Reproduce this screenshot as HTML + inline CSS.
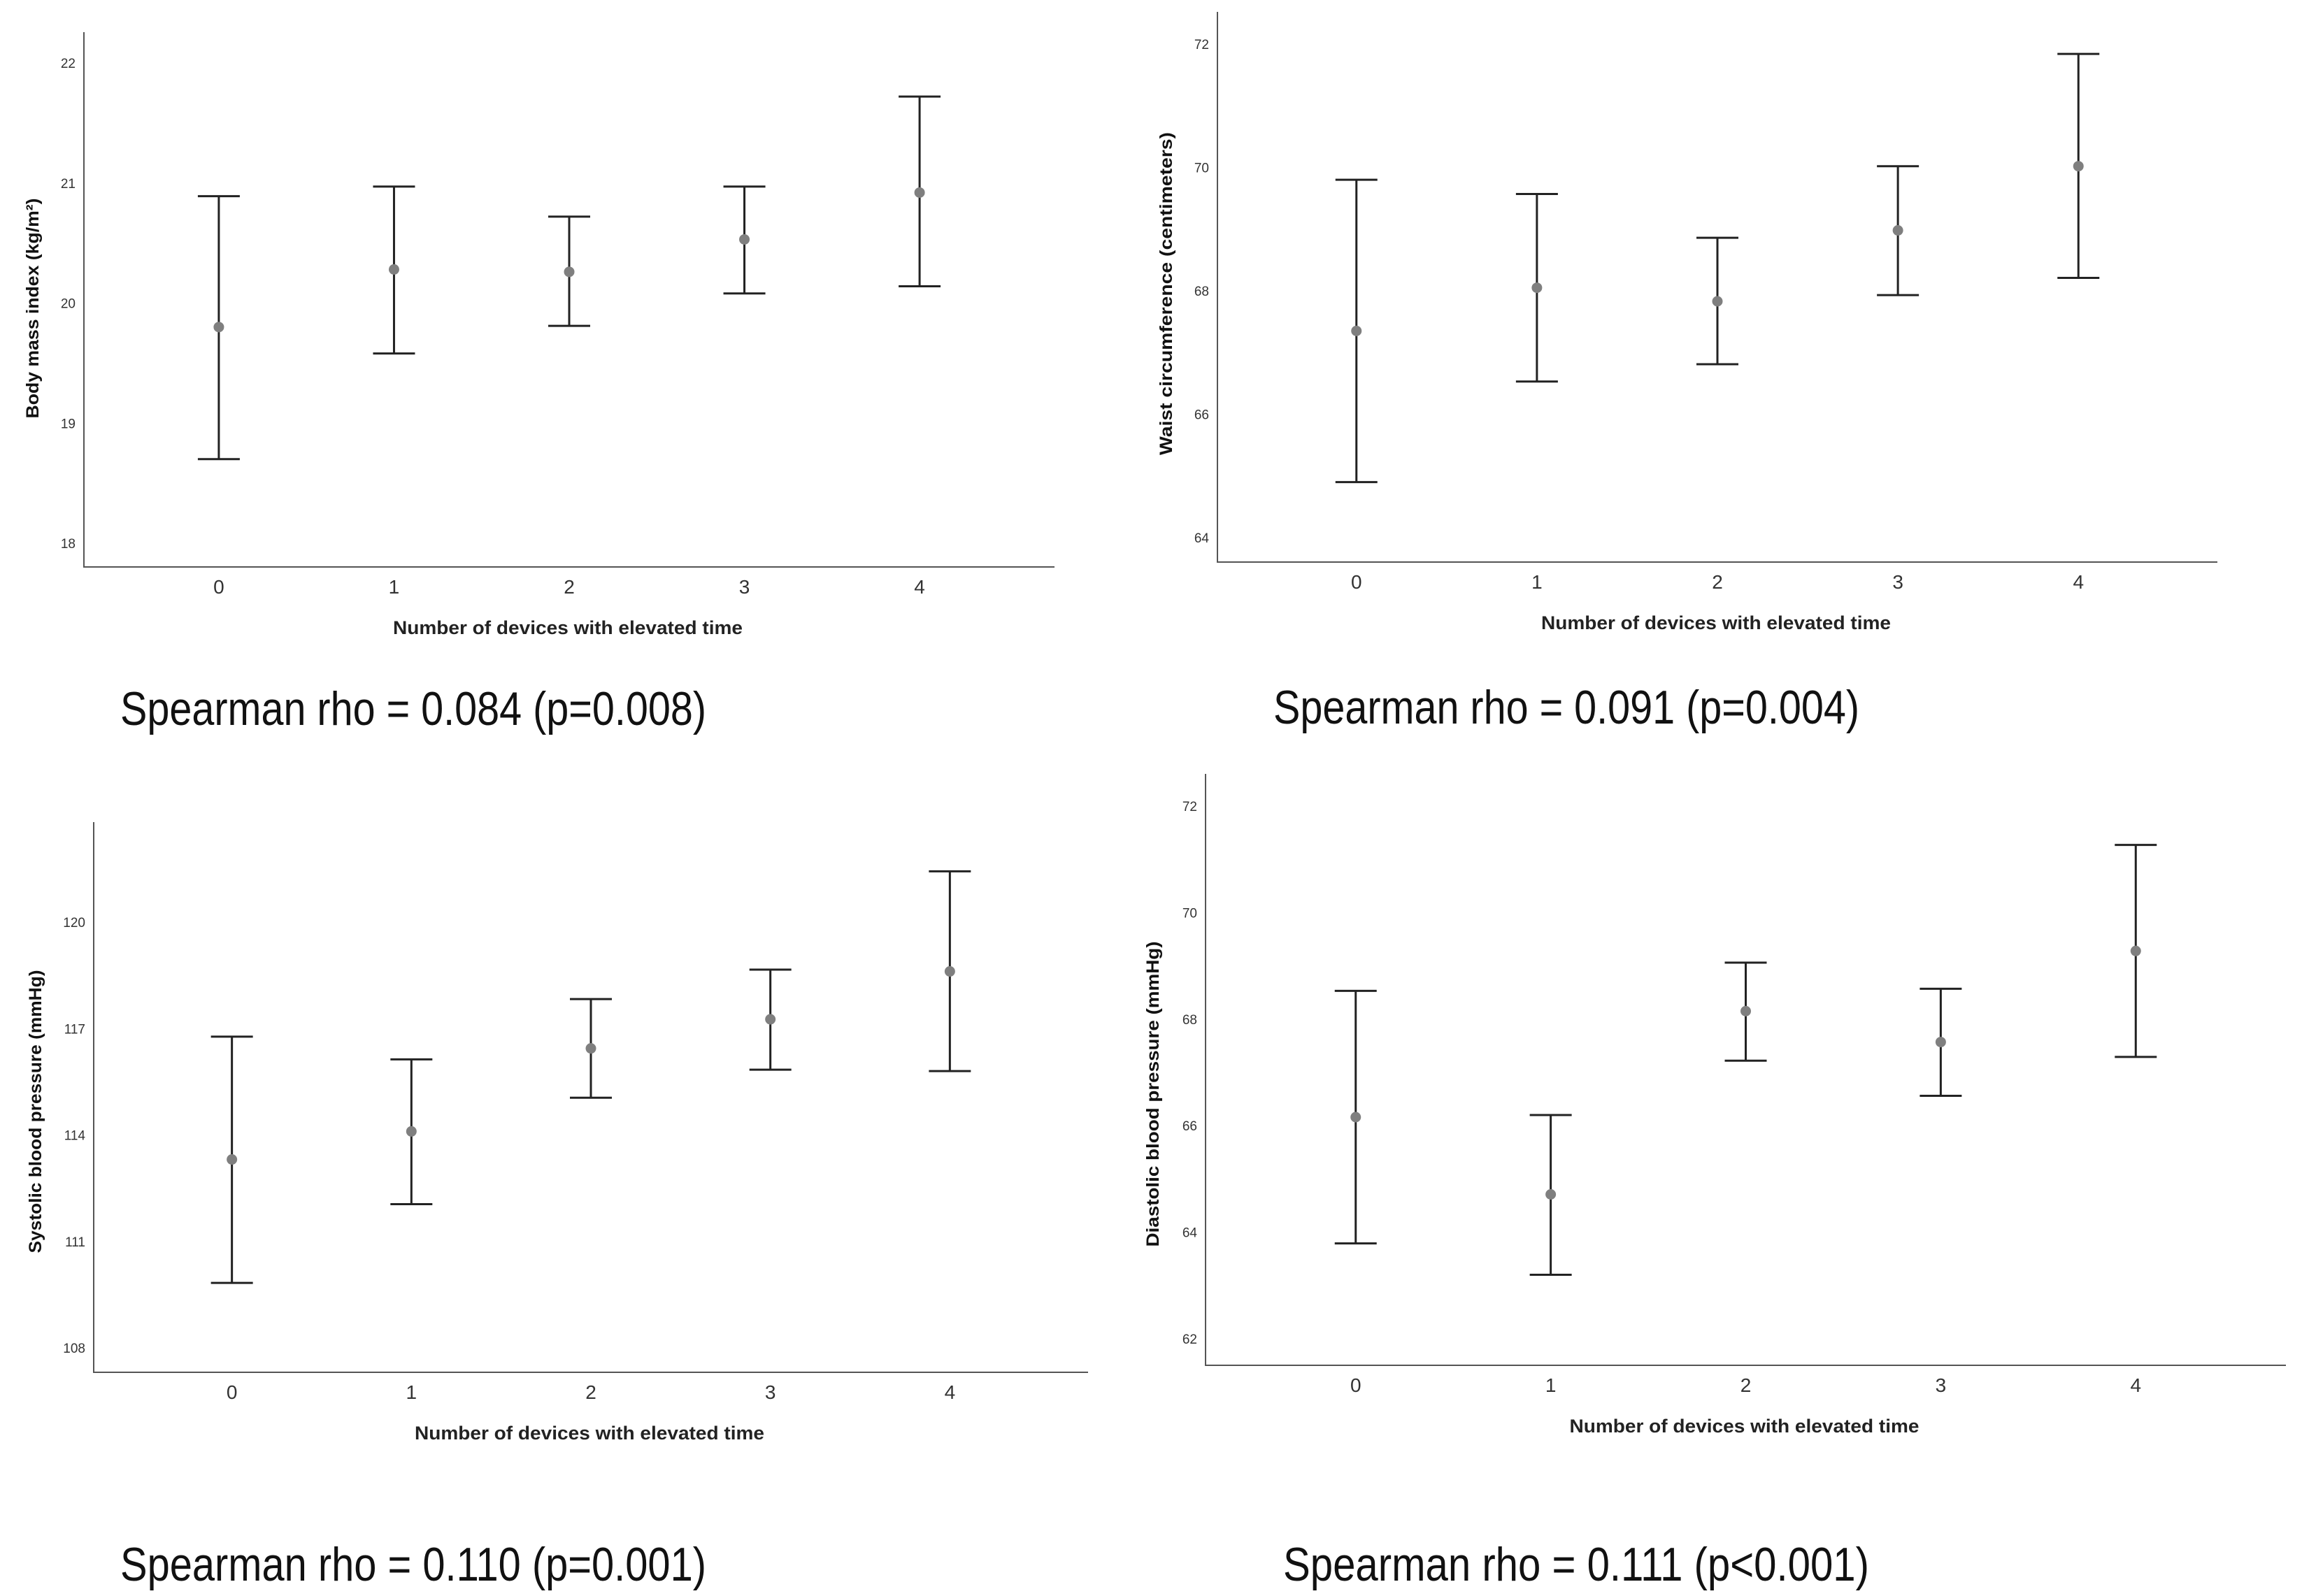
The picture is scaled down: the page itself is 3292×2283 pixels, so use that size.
<!DOCTYPE html>
<html><head><meta charset="utf-8"><style>
html,body{margin:0;padding:0;background:#fff;}
svg{display:block;font-family:"Liberation Sans",sans-serif;}
</style></head><body>
<svg id="chart" width="3292" height="2283" viewBox="0 0 3292 2283" xmlns="http://www.w3.org/2000/svg"></svg>
<script>
const categories = ["0","1","2","3","4"];
const bmiMean = [19.80, 20.28, 20.26, 20.53, 20.92];
const bmiLow = [18.70, 19.58, 19.81, 20.08, 20.14];
const bmiHigh = [20.89, 20.97, 20.72, 20.97, 21.72];
const bmiTicks = [18, 19, 20, 21, 22];
const waistMean = [67.35, 68.05, 67.83, 68.98, 70.02];
const waistLow = [64.90, 66.53, 66.81, 67.93, 68.21];
const waistHigh = [69.80, 69.57, 68.86, 70.02, 71.84];
const waistTicks = [64, 66, 68, 70, 72];
const sbpMean = [113.31, 114.10, 116.44, 117.26, 118.61];
const sbpLow = [109.83, 112.05, 115.05, 115.84, 115.80];
const sbpHigh = [116.77, 116.13, 117.83, 118.66, 121.43];
const sbpTicks = [108, 111, 114, 117, 120];
const dbpMean = [66.16, 64.71, 68.15, 67.57, 69.28];
const dbpLow = [63.79, 63.20, 67.22, 66.56, 67.29];
const dbpHigh = [68.53, 66.20, 69.06, 68.57, 71.27];
const dbpTicks = [62, 64, 66, 68, 70, 72];

const NS = "http://www.w3.org/2000/svg";
const svg = document.getElementById("chart");
function mk(tag, attrs, parent, text) {
  const e = document.createElementNS(NS, tag);
  for (const k in attrs) e.setAttribute(k, attrs[k]);
  if (text !== undefined) e.textContent = text;
  (parent || svg).appendChild(e);
  return e;
}

function panel(cfg) {
  const g = mk("g", {});
  
  
  const sy = v => cfg.y0 + (v - cfg.v0) * (cfg.y1 - cfg.y0) / (cfg.v1 - cfg.v0);
  const step = (cfg.right - cfg.left) / 5.54;
  const sx = i => cfg.left + (i + 0.77) * step;
  const axes = mk("path", {d: `M${cfg.left},${cfg.top} L${cfg.left},${cfg.bottom} L${cfg.right},${cfg.bottom}`, fill: "none", stroke: "#555", "stroke-width": 2}, g);
  
  
  cfg.ticks.forEach(t => {
    const tl = mk("text", {x: cfg.left - 12, y: sy(t) + 7, "text-anchor": "end", "font-size": 19, fill: "#333"}, g, String(t));
    
    
  });
  categories.forEach((c, i) => {
    const tl = mk("text", {x: sx(i), y: cfg.bottom + 38, "text-anchor": "middle", "font-size": 28, fill: "#333"}, g, c);
    
    
    const x = sx(i), yl = sy(cfg.low[i]), yh = sy(cfg.high[i]), ym = sy(cfg.mean[i]);
    const eb = mk("path", {d: `M${x},${yh} L${x},${yl} M${x-30},${yh} L${x+30},${yh} M${x-30},${yl} L${x+30},${yl}`, stroke: "#222", "stroke-width": 3, fill: "none"}, g);
    
    
    const pt = mk("circle", {cx: x, cy: ym, r: 7.5, fill: "#7f7f7f"}, g);
    
    
  });
  const xl = mk("text", {x: (cfg.left + cfg.right) / 2 - 2, y: cfg.bottom + 96, "text-anchor": "middle", "font-size": 27, "font-weight": "bold", fill: "#222", textLength: 500, lengthAdjust: "spacingAndGlyphs"}, g, "Number of devices with elevated time");
  
  
  const yt = mk("text", {x: 0, y: 0, "text-anchor": "middle", "font-size": 25, "font-weight": "bold", fill: "#111", textLength: cfg.ytLen, lengthAdjust: "spacingAndGlyphs", transform: `translate(${cfg.ytX},${cfg.ytY}) rotate(-90)`}, g, cfg.ytitle);
  
  
  const sp = mk("text", {x: 0, y: 0, "font-size": 52, fill: "#111", textLength: 838, lengthAdjust: "spacingAndGlyphs", transform: `translate(${cfg.spX},${cfg.spY}) scale(1,1.3)`}, g, cfg.spear);
  
  
}

panel({name: "bmi-panel", left: 120, right: 1508, top: 46, bottom: 811, v0: 22, y0: 90, v1: 18, y1: 777,
  ticks: bmiTicks, mean: bmiMean, low: bmiLow, high: bmiHigh,
  ytitle: "Body mass index (kg/m²)", ytX: 55, ytY: 441, ytLen: 315,
  spear: "Spearman rho = 0.084 (p=0.008)", spX: 172, spY: 1037});
panel({name: "waist-panel", left: 1741, right: 3171, top: 17, bottom: 804, v0: 72, y0: 63, v1: 64, y1: 769,
  ticks: waistTicks, mean: waistMean, low: waistLow, high: waistHigh,
  ytitle: "Waist circumference (centimeters)", ytX: 1676, ytY: 420, ytLen: 462,
  spear: "Spearman rho = 0.091 (p=0.004)", spX: 1821, spY: 1035});
panel({name: "systolic-panel", left: 134, right: 1556, top: 1176, bottom: 1963, v0: 120, y0: 1319, v1: 108, y1: 1928,
  ticks: sbpTicks, mean: sbpMean, low: sbpLow, high: sbpHigh,
  ytitle: "Systolic blood pressure (mmHg)", ytX: 59, ytY: 1590, ytLen: 405,
  spear: "Spearman rho = 0.110 (p=0.001)", spX: 172, spY: 2261});
panel({name: "diastolic-panel", left: 1724, right: 3269, top: 1107, bottom: 1953, v0: 72, y0: 1153, v1: 62, y1: 1915,
  ticks: dbpTicks, mean: dbpMean, low: dbpLow, high: dbpHigh,
  ytitle: "Diastolic blood pressure (mmHg)", ytX: 1657, ytY: 1565, ytLen: 437,
  spear: "Spearman rho = 0.111 (p<0.001)", spX: 1835, spY: 2261});
</script>
</body></html>
